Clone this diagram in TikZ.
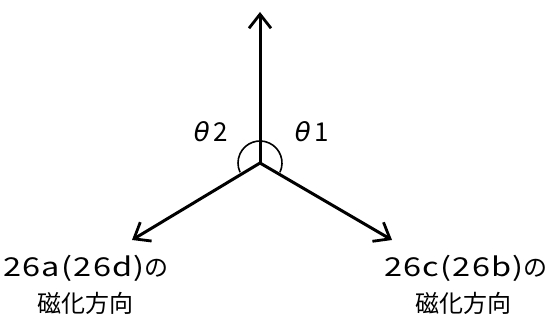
\documentclass[tikz,border=0pt]{standalone}
\usepackage{fontspec}
\setmainfont{Noto Sans CJK JP}
\newfontfamily\thfont{DejaVu Sans}
\newfontfamily\latfont{Noto Sans CJK JP}[FakeStretch=1.25,LetterSpace=5]
\usetikzlibrary{arrows.meta}
\tikzset{
  vec/.style={line width=3pt, -{Straight Barb[length=14pt,width=22pt,line width=2.8pt]}},
  lbl/.style={font=\fontsize{24}{30}\selectfont, align=center, inner sep=0pt},
  th/.style={font=\fontsize{26}{30}\selectfont, inner sep=0pt},
}
\begin{document}
\begin{tikzpicture}[x=1pt,y=1pt]
\useasboundingbox (0,0) rectangle (548,323);
\coordinate (c) at (260,160);
\coordinate (up) at (260,311);
\coordinate (lt) at (132,83);
\coordinate (rt) at (392,83);
\draw[line width=1.6pt] ([shift={(-25:22)}]c) arc[start angle=-25,end angle=205,radius=22];
\draw[vec] (c) -- (up);
\draw[vec] (c) -- (lt);
\draw[vec] (c) -- (rt);
\node[th] (t2) at (211,191) {{\thfont\itshape θ}\kern4pt 2};
\node[th] (t1) at (312,191) {{\thfont\itshape θ}\kern4pt 1};
\node[lbl] (la) at (86,55) {{\latfont\fontsize{26}{30}\selectfont 26a(26d)}の};
\node[lbl] (lb) at (85,20) {磁化方向};
\node[lbl] (ra) at (466,55) {{\latfont\fontsize{26}{30}\selectfont 26c(26b)}の};
\node[lbl] (rb) at (463,20) {磁化方向};
\end{tikzpicture}
\end{document}
